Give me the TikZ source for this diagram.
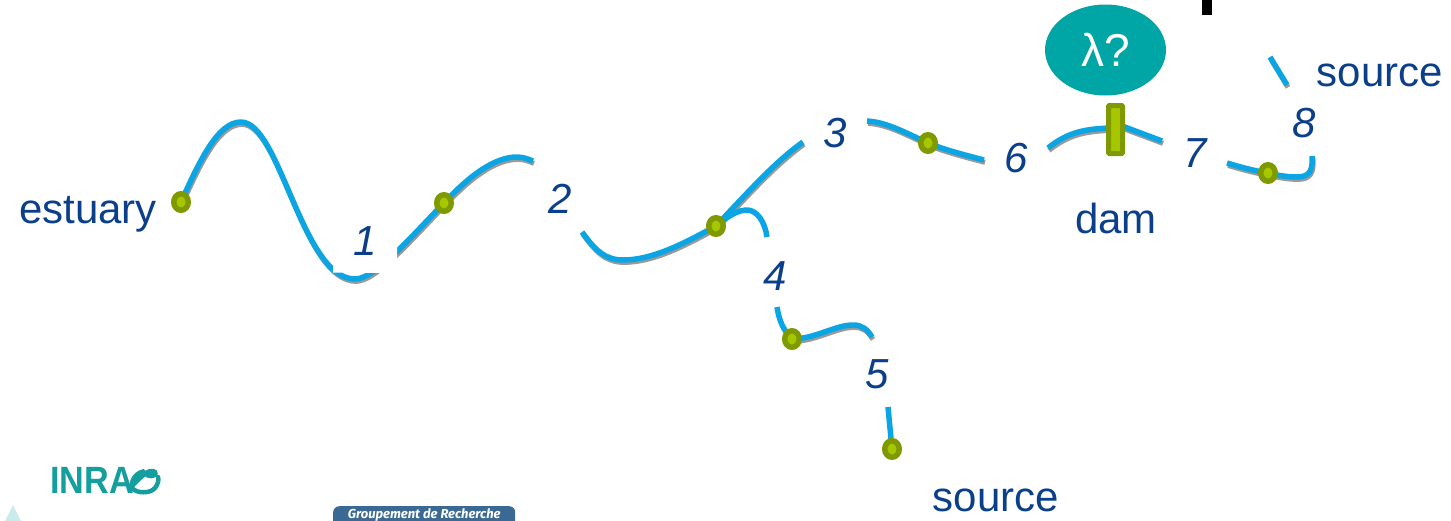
\documentclass[tikz,border=0pt]{standalone}
\usepackage{fontspec}
\setmainfont{Liberation Sans}
\newfontfamily\grfont{Fira Sans}
\usetikzlibrary{shapes.geometric}
\definecolor{riverblue}{HTML}{0BA5E4}
\definecolor{rivershade}{HTML}{9A9A9A}
\definecolor{dotdark}{HTML}{7F9A00}
\definecolor{dotlight}{HTML}{A6C600}
\definecolor{labelblue}{HTML}{0B3F8A}
\definecolor{lamteal}{HTML}{00A5A5}
\definecolor{logoteal}{HTML}{159E9E}
\definecolor{palet}{HTML}{C9EBEB}
\definecolor{grblue}{HTML}{3A6A94}
\tikzset{
  plainriver/.style={draw=riverblue,line width=5.5pt,line cap=butt,line join=round},
  river/.style={plainriver,preaction={draw=rivershade,line width=5pt,transform canvas={shift={(1pt,-2.4pt)}}}},
  site/.style={ellipse,draw=dotdark,fill=dotlight,line width=5.5pt,minimum width=14.5pt,minimum height=16.5pt,inner sep=0pt},
  word/.style={text=labelblue,inner sep=0pt,font=\fontsize{42}{50}\selectfont},
  num/.style={text=labelblue,inner sep=0pt,font=\fontsize{42}{50}\selectfont\itshape},
}
\begin{document}
\begin{tikzpicture}[x=1pt,y=-1pt]
\useasboundingbox (0,0) rectangle (1451,520);
\clip (0,0) rectangle (1451,520);
% named points
\coordinate (peak) at (241,122);
\coordinate (trough) at (355,279);
\coordinate (crest) at (517,157);
\coordinate (cut2) at (533,161);
\coordinate (start2) at (582,232);
\coordinate (low2) at (623,260);
\coordinate (end3) at (803,142);
\coordinate (hump4) at (747,210);
\coordinate (end4) at (767,237);
\coordinate (start3) at (867,121);
\coordinate (end6) at (984,160);
\coordinate (start6) at (1048,148);
\coordinate (damL) at (1110,128);
\coordinate (damR) at (1122,126);
\coordinate (end7) at (1162,141);
\coordinate (start7) at (1227,163);
\coordinate (bend8) at (1297,177);
\coordinate (end8) at (1312,156);
\coordinate (top8a) at (1270,57);
\coordinate (top8b) at (1287,85);
\coordinate (start4) at (777,307);
\coordinate (hump5) at (853,325);
\coordinate (end5) at (872,337);
\coordinate (start5) at (888,407);
% site positions
\coordinate (pE) at (181,202);
\coordinate (pA) at (444,203);
\coordinate (pB) at (716,226);
\coordinate (pC) at (928,143);
\coordinate (pD) at (1268,173);
\coordinate (pF) at (792,339);
\coordinate (pG) at (892,449);
% reaches
\draw[river] (pE) .. controls (200,160) and (218,122) .. (peak)
  .. controls (280,122) and (302,279) .. (trough)
  .. controls (375,279) and (410,238) .. (pA)
  .. controls (470,175) and (495,157) .. (crest)
  .. controls (523,157) and (528,159) .. (cut2);
\draw[river] (start2) .. controls (595,250) and (605,260) .. (low2)
  .. controls (655,260) and (690,240) .. (pB)
  .. controls (750,190) and (775,162) .. (end3);
\draw[plainriver] (pB) .. controls (728,216) and (738,210) .. (hump4)
  .. controls (757,210) and (765,222) .. (end4);
\draw[river] (start3) .. controls (887,122) and (908,134) .. (pC)
  .. controls (945,150) and (965,155) .. (end6);
\draw[river] (start6) .. controls (1068,132) and (1085,129) .. (damL);
\draw[river] (damR) -- (end7);
\draw[river] (start7) .. controls (1240,167) and (1255,171) .. (pD)
  .. controls (1280,176) and (1290,177) .. (bend8)
  .. controls (1310,177) and (1313,170) .. (end8);
\draw[river] (top8a) -- (top8b);
\draw[plainriver] (start4) .. controls (779,320) and (783,330) .. (pF);
\draw[river] (pF) .. controls (815,339) and (835,325) .. (hump5)
  .. controls (862,325) and (867,329) .. (end5);
\draw[plainriver] (start5) -- (pG);
% white cut around label 1
\fill[white] (333,250) -- (333,272.5) -- (383,273) -- (397,262) -- (397,235) -- (340,235) -- cycle;
% sites
\foreach \p/\n in {pE/sE,pA/sA,pB/sB,pC/sC,pD/sD,pF/sF,pG/sG}
  \node[site] (\n) at (\p) {};
% dam
\node[draw=dotdark,fill=dotlight,line width=5pt,rounded corners=1pt,minimum width=14pt,minimum height=48pt,inner sep=0pt] (dambar) at (1115.5,129.5) {};
\node[ellipse,fill=lamteal,minimum width=121pt,minimum height=91pt,inner sep=0pt,text=white,font=\fontsize{46}{50}\selectfont] (lambda) at (1105.5,50) {λ?};
\fill[black] (1202,-1) rectangle (1212,15);
% labels
\node[word] (estuary) at (88,214) {estuary};
\node[word] (source1) at (1380,75) {source};
\node[word] (source2) at (996,500) {source};
\node[word] (damlab) at (1116,218) {dam};
\node[num] (n1) at (365,241) {1};
\node[num] (n2) at (560,199) {2};
\node[num] (n3) at (835,133) {3};
\node[num] (n4) at (775,276) {4};
\node[num] (n5) at (877,374) {5};
\node[num] (n6) at (1016,158) {6};
\node[num] (n7) at (1195,153) {7};
\node[num] (n8) at (1304,123) {8};
% bottom-left logos
\node[text=logoteal,inner sep=0pt,anchor=base west,xscale=.9,font=\fontsize{38}{40}\selectfont\bfseries] (inrae) at (50,493) {INRA};
\draw[logoteal,line width=4.5pt,line cap=round] (132,486) .. controls (140,478) and (147,470) .. (153,471) .. controls (160,473) and (150,481) .. (143,471.5)
  .. controls (133,474) and (130,485) .. (133,489) .. controls (137,493) and (150,494) .. (155,488) .. controls (158,484) and (159,480) .. (158,477);
\fill[palet] (13,505) -- (23,525) -- (3,525) -- cycle;
\node[fill=grblue,rounded corners=6pt,minimum width=182pt,minimum height=30pt,inner sep=0pt,anchor=north west,text=white,font=\grfont\fontsize{13}{14}\selectfont\itshape\bfseries,text depth=14pt,text height=9pt] (gdr) at (333,506) {Groupement de Recherche};
\end{tikzpicture}
\end{document}
